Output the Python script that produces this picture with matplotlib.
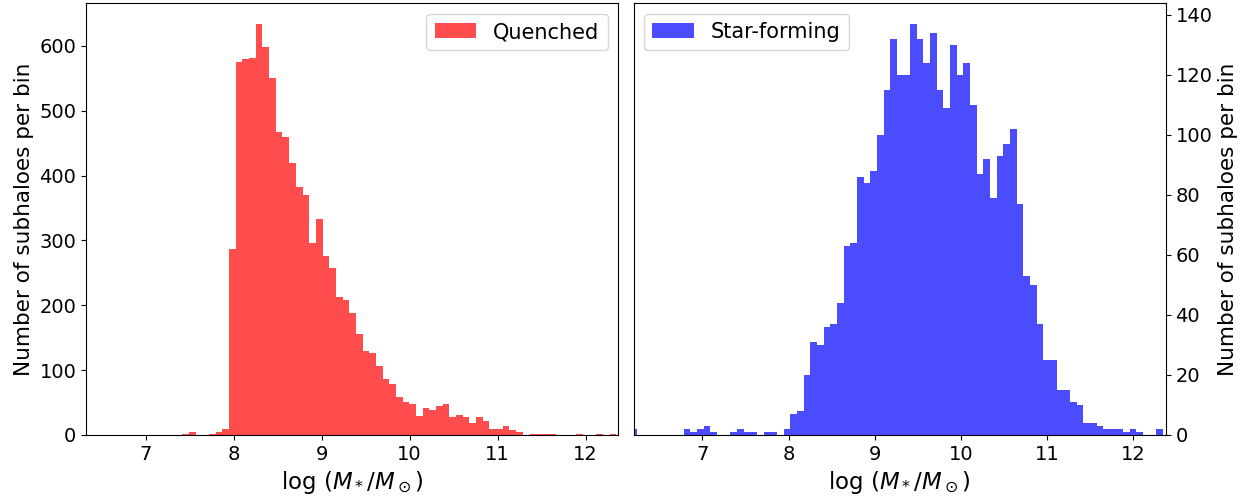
import numpy as np
import matplotlib
matplotlib.use('Agg')
import matplotlib.pyplot as plt

# bin setup (80 bins each)
q_lo, q_hi = 6.277, 12.349
sf_lo, sf_hi = 6.165, 12.35
nbins = 80

quenched_counts = [
    0, 0, 0, 0, 0, 0, 0, 0, 0, 0, 0, 0, 0, 0, 0, 1, 4, 0, 0, 1,
    4, 9, 287, 575, 580, 582, 634, 599, 551, 468, 460, 419, 383, 370, 296, 333,
    276, 258, 213, 208, 188, 155, 130, 127, 107, 87, 79, 59, 51, 48, 30, 41,
    38, 45, 48, 27, 31, 28, 19, 27, 21, 10, 10, 14, 8, 5, 0, 2, 2, 2,
    2, 0, 0, 0, 1, 0, 0, 1, 0, 1,
]

starforming_counts = [
    2, 0, 0, 0, 0, 0, 0, 0, 2, 1, 2, 3, 1, 0, 0, 1, 2, 1, 1, 0,
    1, 1, 0, 2, 7, 8, 20, 31, 30, 36, 37, 44, 63, 64, 86, 84, 88, 100, 115, 132,
    120, 120, 137, 132, 124, 134, 115, 109, 130, 120, 124, 110, 87, 92, 79, 93, 97, 102, 77, 53,
    50, 37, 25, 25, 15, 15, 11, 10, 4, 4, 3, 2, 2, 2, 1, 2, 1, 0, 0, 2,
]

q_edges = np.linspace(q_lo, q_hi, nbins + 1)
sf_edges = np.linspace(sf_lo, sf_hi, nbins + 1)
q_centers = 0.5 * (q_edges[:-1] + q_edges[1:])
sf_centers = 0.5 * (sf_edges[:-1] + sf_edges[1:])

plt.rcParams['font.size'] = 14

fig, (ax1, ax2) = plt.subplots(1, 2, figsize=(12.51, 4.96), dpi=100)

xlab = r'log $(M_*/M_\odot)$'
ylab = 'Number of subhaloes per bin'

ax1.hist(q_centers, bins=q_edges, weights=quenched_counts, color='red', alpha=0.7, label='Quenched')
ax1.set_xlim(6.32, 12.37)
ax1.set_xlabel(xlab, fontsize=16.5)
ax1.set_ylabel(ylab, fontsize=15.5)
ax1.legend(loc='upper right', fontsize=15)

ax2.hist(sf_centers, bins=sf_edges, weights=starforming_counts, color='blue', alpha=0.7, label='Star-forming')
ax2.set_xlim(6.2, 12.38)
ax2.set_xlabel(xlab, fontsize=16.5)
ax2.set_ylabel(ylab, fontsize=15.5)
ax2.yaxis.tick_right()
ax2.yaxis.set_label_position('right')
ax2.legend(loc='upper left', fontsize=15)

plt.subplots_adjust(left=86/1251, right=1165.7/1251, top=1 - 3.3/496, bottom=1 - 435/496, wspace=0.029)
plt.savefig('out.png', dpi=100)
